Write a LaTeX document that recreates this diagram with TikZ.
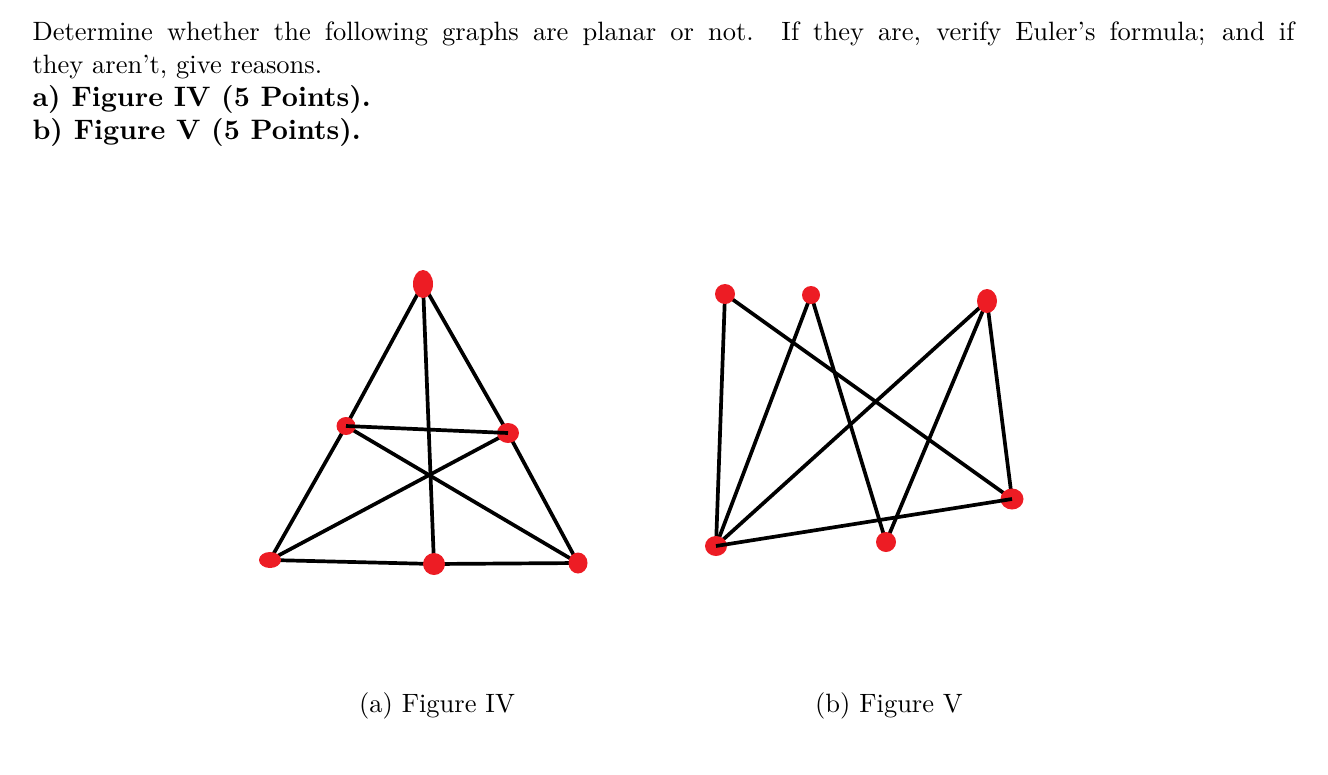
\documentclass[tikz,border=0pt]{standalone}
\usetikzlibrary{shapes.geometric,backgrounds}
\definecolor{dotred}{RGB}{237,28,36}
\tikzset{
  dot/.style={ellipse, fill=dotred, draw=none, inner sep=0pt},
  edge/.style={line width=3.7pt, black},
  txt/.style={inner sep=0pt, scale=2.65, transform shape, font=\fontsize{10}{12.5}\selectfont},
}
\newcommand{\bfitem}[1]{{\fontsize{10.6}{12.5}\selectfont\bfseries #1}}
\begin{document}
\begin{tikzpicture}[x=1pt,y=-1pt]
\useasboundingbox (0,0) rectangle (1328,774);
% question text
\node[txt, anchor=base west, text width=476.2pt, align=justify] (q) at (32,40)
  {Determine whether the following graphs are planar or not. If they are, verify Euler's formula; and if\linebreak
   they aren't, give reasons.\\
   \bfitem{a) Figure IV (5 Points).}\\
   \bfitem{b) Figure V (5 Points).}};
% Figure IV
\node[dot, minimum width=20pt, minimum height=28pt] (t) at (423,284) {};
\node[dot, minimum width=19pt, minimum height=18pt] (ml) at (346,426) {};
\node[dot, minimum width=22pt, minimum height=20pt] (mr) at (508,433) {};
\node[dot, minimum width=22pt, minimum height=16pt] (bl) at (270,560) {};
\node[dot, minimum width=22pt, minimum height=22pt] (bm) at (434,564) {};
\node[dot, minimum width=19pt, minimum height=21pt] (br) at (578,563) {};
\begin{pgfonlayer}{background}
\draw[edge] (t.center) -- (ml.center) -- (bl.center);
\draw[edge] (t.center) -- (mr.center) -- (br.center);
\draw[edge] (t.center) -- (bm.center);
\draw[edge] (bl.center) -- (bm.center) -- (br.center);
\draw[edge] (ml.center) -- (br.center);
\draw[edge] (mr.center) -- (bl.center);
\end{pgfonlayer}
\draw[edge] (ml.center) -- (mr.center);
% Figure V
\node[dot, minimum width=20pt, minimum height=20pt] (a) at (725,294) {};
\node[dot, minimum width=18pt, minimum height=18pt] (b) at (811,295) {};
\node[dot, minimum width=20pt, minimum height=24pt] (c) at (987,301) {};
\node[dot, minimum width=23pt, minimum height=21pt] (d) at (1012,499) {};
\node[dot, minimum width=20pt, minimum height=20pt] (e) at (886,542) {};
\node[dot, minimum width=22pt, minimum height=20pt] (f) at (716,546) {};
\begin{pgfonlayer}{background}
\draw[edge] (a.center) -- (f.center);
\draw[edge] (a.center) -- (d.center);
\draw[edge] (b.center) -- (f.center);
\draw[edge] (b.center) -- (e.center);
\draw[edge] (c.center) -- (f.center);
\draw[edge] (c.center) -- (e.center);
\draw[edge] (c.center) -- (d.center);
\end{pgfonlayer}
\draw[edge] (f.center) -- (d.center);
% captions
\node[txt, anchor=base] (capa) at (437,712) {(a) Figure IV};
\node[txt, anchor=base] (capb) at (889,712) {(b) Figure V};
\end{tikzpicture}
\end{document}
